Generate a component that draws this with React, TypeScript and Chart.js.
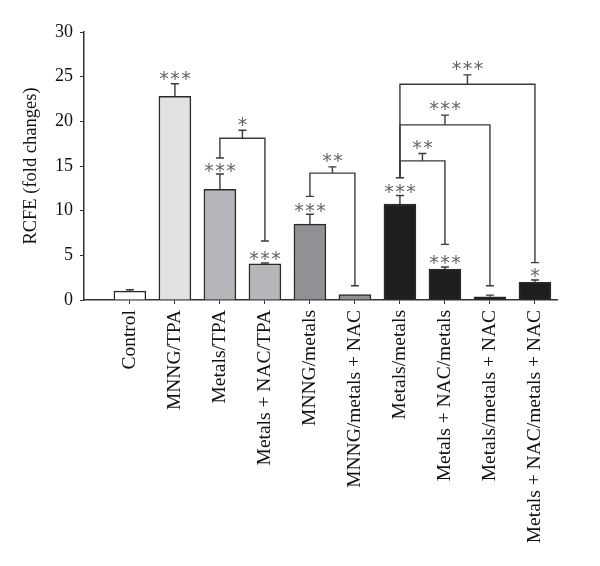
import React, { useEffect, useRef } from "react";
import { Chart, registerables } from "chart.js";

Chart.register(...registerables);

const categories = [
  "Control",
  "MNNG/TPA",
  "Metals/TPA",
  "Metals + NAC/TPA",
  "MNNG/metals",
  "MNNG/metals + NAC",
  "Metals/metals",
  "Metals + NAC/metals",
  "Metals/metals + NAC",
  "Metals + NAC/metals + NAC",
];
const means = [1.0, 22.8, 12.4, 4.05, 8.5, 0.6, 10.75, 3.45, 0.35, 1.98];
const errors = [0.15, 1.4, 1.7, 0.1, 1.1, 0.0, 0.95, 0.25, 0.2, 0.26];
const barColors = [
  "#ffffff",
  "#e1e2e4",
  "#b5b6b9",
  "#b5b6b9",
  "#8f9194",
  "#8f9194",
  "#1e1e1e",
  "#1e1e1e",
  "#1e1e1e",
  "#1e1e1e",
];
const starLabels = ["", "***", "***", "***", "***", "", "***", "***", "", "*"];
const starLevels = [0, 25.1, 14.8, 5.0, 10.3, 0, 12.5, 4.55, 0, 3.06];

const bracketLeft = [2, 4, 6, 6, 6];
const bracketRight = [3, 5, 7, 8, 9];
const bracketLevel = [18.1, 14.2, 15.57, 19.6, 24.15];
const bracketLeftEnd = [15.9, 11.6, 13.7, 13.7, 13.7];
const bracketRightEnd = [6.6, 1.6, 6.23, 1.6, 4.18];
const bracketStubTop = [19.0, 14.9, 16.4, 20.7, 25.2];
const bracketLabels = ["*", "**", "**", "***", "***"];
const bracketLabelLevels = [20.0, 15.9, 17.4, 21.8, 26.3];

const yTitle = "RCFE (fold changes)";
const serif = "'Liberation Serif', 'Times New Roman', serif";

function drawStars(ctx: CanvasRenderingContext2D, text: string, cx: number, cy: number) {
  const n = text.length;
  const spacing = 11;
  ctx.save();
  ctx.font = "19px 'DejaVu Sans'";
  ctx.fillStyle = "#636363";
  ctx.textAlign = "center";
  ctx.textBaseline = "alphabetic";
  const m = ctx.measureText("*");
  const asc = m.actualBoundingBoxAscent;
  const desc = m.actualBoundingBoxDescent;
  const baseY = cy + (asc - desc) / 2;
  for (let k = 0; k < n; k++) {
    const x = cx + (k - (n - 1) / 2) * spacing;
    ctx.fillText("*", x, baseY);
  }
  ctx.restore();
}

const annotationPlugin = {
  id: "annotations",
  afterDatasetsDraw(chart: any) {
    const ctx: CanvasRenderingContext2D = chart.ctx;
    const xs = chart.scales.x;
    const ys = chart.scales.y;
    const cap = 4;
    ctx.save();
    ctx.strokeStyle = "#3a3a3a";
    ctx.lineWidth = 1.4;
    means.forEach((m, i) => {
      if (!errors[i]) return;
      const x = xs.getPixelForValue(i);
      const y0 = ys.getPixelForValue(m);
      const y1 = ys.getPixelForValue(m + errors[i]);
      ctx.beginPath();
      ctx.moveTo(x, y0);
      ctx.lineTo(x, y1);
      ctx.moveTo(x - cap, y1);
      ctx.lineTo(x + cap, y1);
      ctx.stroke();
    });
    bracketLeft.forEach((l, b) => {
      const xl = xs.getPixelForValue(l);
      const xr = xs.getPixelForValue(bracketRight[b]);
      const yh = ys.getPixelForValue(bracketLevel[b]);
      const yl = ys.getPixelForValue(bracketLeftEnd[b]);
      const yr = ys.getPixelForValue(bracketRightEnd[b]);
      const xm = (xl + xr) / 2;
      const ys2 = ys.getPixelForValue(bracketStubTop[b]);
      ctx.beginPath();
      ctx.moveTo(xl, yl);
      ctx.lineTo(xl, yh);
      ctx.lineTo(xr, yh);
      ctx.lineTo(xr, yr);
      ctx.moveTo(xl - cap, yl);
      ctx.lineTo(xl + cap, yl);
      ctx.moveTo(xr - cap, yr);
      ctx.lineTo(xr + cap, yr);
      ctx.moveTo(xm, yh);
      ctx.lineTo(xm, ys2);
      ctx.moveTo(xm - cap, ys2);
      ctx.lineTo(xm + cap, ys2);
      ctx.stroke();
      drawStars(ctx, bracketLabels[b], xm, ys.getPixelForValue(bracketLabelLevels[b]));
    });
    starLabels.forEach((s, i) => {
      if (!s) return;
      drawStars(ctx, s, xs.getPixelForValue(i), ys.getPixelForValue(starLevels[i]));
    });
    ctx.restore();
  },
};

export default function App() {
  const ref = useRef<HTMLCanvasElement | null>(null);
  useEffect(() => {
    document.body.style.margin = "0";
    if (!ref.current) return;
    const chart = new Chart(ref.current, {
      type: "bar",
      data: {
        datasets: [
          {
            data: means.map((y, i) => ({ x: i, y })),
            backgroundColor: barColors,
            borderColor: "#2a2a2a",
            borderWidth: 1.5,
            barThickness: 32,
          },
        ],
      },
      options: {
        animation: false,
        responsive: true,
        maintainAspectRatio: false,
        layout: { padding: { top: 32, right: 43, left: 0, bottom: 0 } },
        plugins: {
          legend: { display: false },
          tooltip: { enabled: false },
        },
        scales: {
          x: {
            type: "linear",
            offset: false,
            min: -1.02,
            max: 9.49,
            afterBuildTicks: (s: any) => {
              s.ticks = categories.map((_, i) => ({ value: i }));
            },
            afterFit: (s: any) => {
              s.height = 266;
            },
            ticks: {
              autoSkip: false,
              maxRotation: 90,
              minRotation: 90,
              padding: 6,
              color: "#111",
              font: { family: serif, size: 19.5 },
              callback: (v: any) => categories[v] ?? "",
            },
            grid: { drawOnChartArea: false, drawTicks: true, tickLength: 4, color: "#333", offset: false },
            border: { display: true, color: "#333", width: 1.5 },
          },
          y: {
            min: 0,
            max: 30,
            afterFit: (s: any) => {
              s.width = 84;
            },
            ticks: {
              stepSize: 5,
              padding: 7,
              color: "#111",
              font: { family: serif, size: 18 },
            },
            grid: { drawOnChartArea: false, drawTicks: true, tickLength: 4, color: "#333" },
            border: { display: true, color: "#333", width: 1.5 },
            title: {
              display: true,
              text: yTitle,
              color: "#111",
              font: { family: serif, size: 18.5 },
              padding: { top: 20, bottom: 0 },
            },
          },
        },
      },
      plugins: [annotationPlugin],
    });
    return () => chart.destroy();
  }, []);
  return (
    <div style={{ position: "absolute", left: 0, top: 0, width: 600, height: 566 }}>
      <canvas ref={ref} />
    </div>
  );
}
